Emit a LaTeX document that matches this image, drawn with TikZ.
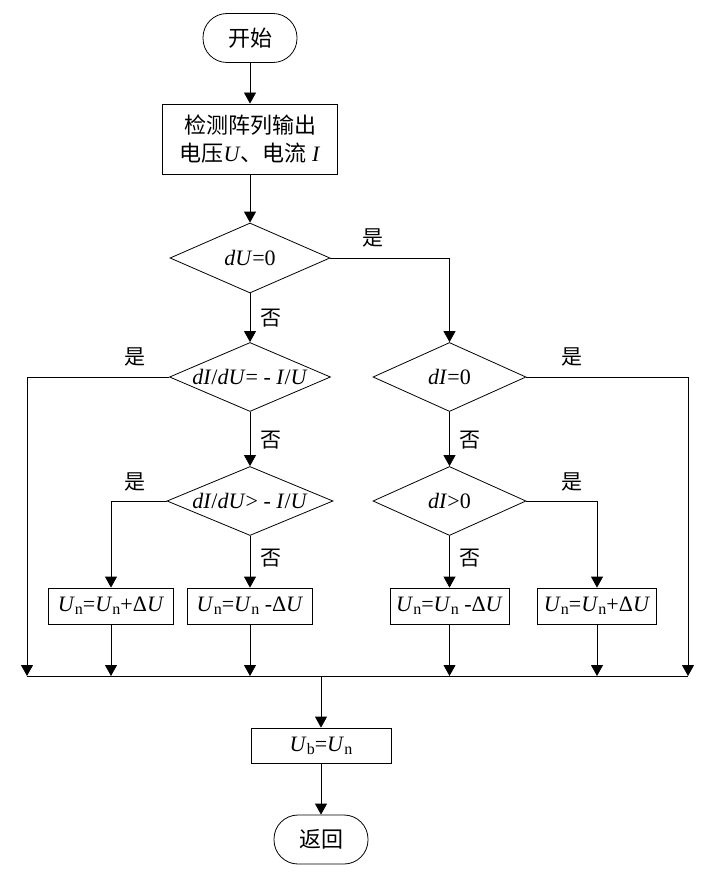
\documentclass[tikz,border=0pt]{standalone}
\usepackage{fontspec}
\setmainfont{Liberation Serif}
\newfontfamily\cjk{Noto Sans CJK SC}
\usetikzlibrary{shapes.geometric,arrows.meta}
\newcommand\sbn[1]{\raisebox{-0.3ex}{\fontsize{16}{16}\selectfont #1}}
\begin{document}
\begin{tikzpicture}[x=1pt,y=-1pt,
  every node/.style={font=\fontsize{22}{28}\selectfont},
  line/.style={draw=black,line width=0.8pt},
  arr/.style={line,-{Triangle[length=11pt,width=12pt]}},
  term/.style={draw,line width=0.8pt,rounded corners=24pt,minimum width=94pt,minimum height=49pt,inner sep=0pt},
  proc/.style={draw,line width=0.8pt,minimum height=36pt,inner sep=0pt,align=center},
  dec/.style={draw,line width=0.8pt,diamond,inner sep=0pt,aspect=1},
  lab/.style={inner sep=0pt,font=\cjk\fontsize{21}{21}\selectfont}]
\useasboundingbox (0,0) rectangle (711,880);
\node[term] (start) at (250,38) {\cjk 开始};
\node[proc,minimum width=175pt,minimum height=70pt] (detect) at (250,139) {{\cjk 检测阵列输出}\\{\cjk 电压}\textit{U}{\cjk 、电流} \textit{I}};
\node[dec,minimum width=160pt,minimum height=70pt] (d1) at (250,258) {\makebox[0pt]{\textit{dU}=0}};
\node[dec,minimum width=161pt,minimum height=69pt] (d2) at (250,377) {\makebox[0pt]{\textit{dI}/\textit{dU}= - \textit{I}/\textit{U}}};
\node[dec,minimum width=166pt,minimum height=69pt] (d4) at (250,501) {\makebox[0pt]{\textit{dI}/\textit{dU}> - \textit{I}/\textit{U}}};
\node[dec,minimum width=153pt,minimum height=69pt] (d3) at (449.5,377) {\makebox[0pt]{\textit{dI}=0}};
\node[dec,minimum width=153pt,minimum height=69pt] (d5) at (449.5,501) {\makebox[0pt]{\textit{dI}>0}};
\node[proc,minimum width=125pt] (b1) at (111,606) {\textit{U}\sbn{n}=\textit{U}\sbn{n}+Δ\textit{U}};
\node[proc,minimum width=125pt] (b2) at (250,606) {\textit{U}\sbn{n}=\textit{U}\sbn{n} -Δ\textit{U}};
\node[proc,minimum width=119pt] (b3) at (449.5,606) {\textit{U}\sbn{n}=\textit{U}\sbn{n} -Δ\textit{U}};
\node[proc,minimum width=119pt] (b4) at (597,606) {\textit{U}\sbn{n}=\textit{U}\sbn{n}+Δ\textit{U}};
\node[proc,minimum width=140pt,minimum height=35pt] (ub) at (321,745.5) {\textit{U}\sbn{b}=\textit{U}\sbn{n}};
\node[term] (ret) at (321,839.5) {\cjk 返回};
\coordinate (busL) at (27,676);
\coordinate (busR) at (688,676);
\coordinate (busM) at (321,676);
% labels
\node[lab] (y1) at (373,238) {是};
\node[lab] (n1) at (271,318) {否};
\node[lab] (y2) at (135,357) {是};
\node[lab] (n2) at (271,440) {否};
\node[lab] (y4) at (135,482) {是};
\node[lab] (n4) at (271,558) {否};
\node[lab] (y3) at (572,357) {是};
\node[lab] (n3) at (470,440) {否};
\node[lab] (y5) at (572,482) {是};
\node[lab] (n5) at (470,558) {否};
% connectors
\draw[arr] (start) -- (detect);
\draw[arr] (detect) -- (d1);
\draw[arr] (d1.south) -- (d2.north);
\draw[arr] (d1.east) -| (d3.north);
\draw[arr] (d2.south) -- (d4.north);
\draw[arr] (d2.west) -| (busL);
\draw[arr] (d4.west) -| (b1.north);
\draw[arr] (d4.south) -- (b2.north);
\draw[arr] (d3.south) -- (d5.north);
\draw[arr] (d3.east) -| (busR);
\draw[arr] (d5.south) -- (b3.north);
\draw[arr] (d5.east) -| (b4.north);
\draw[arr] (b1.south) -- (b1.south |- busL);
\draw[arr] (b2.south) -- (b2.south |- busL);
\draw[arr] (b3.south) -- (b3.south |- busL);
\draw[arr] (b4.south) -- (b4.south |- busL);
\draw[line] (busL) -- (busR);
\draw[arr] (busM) -- (ub.north);
\draw[arr] (ub.south) -- (ret.north);
\end{tikzpicture}
\end{document}
